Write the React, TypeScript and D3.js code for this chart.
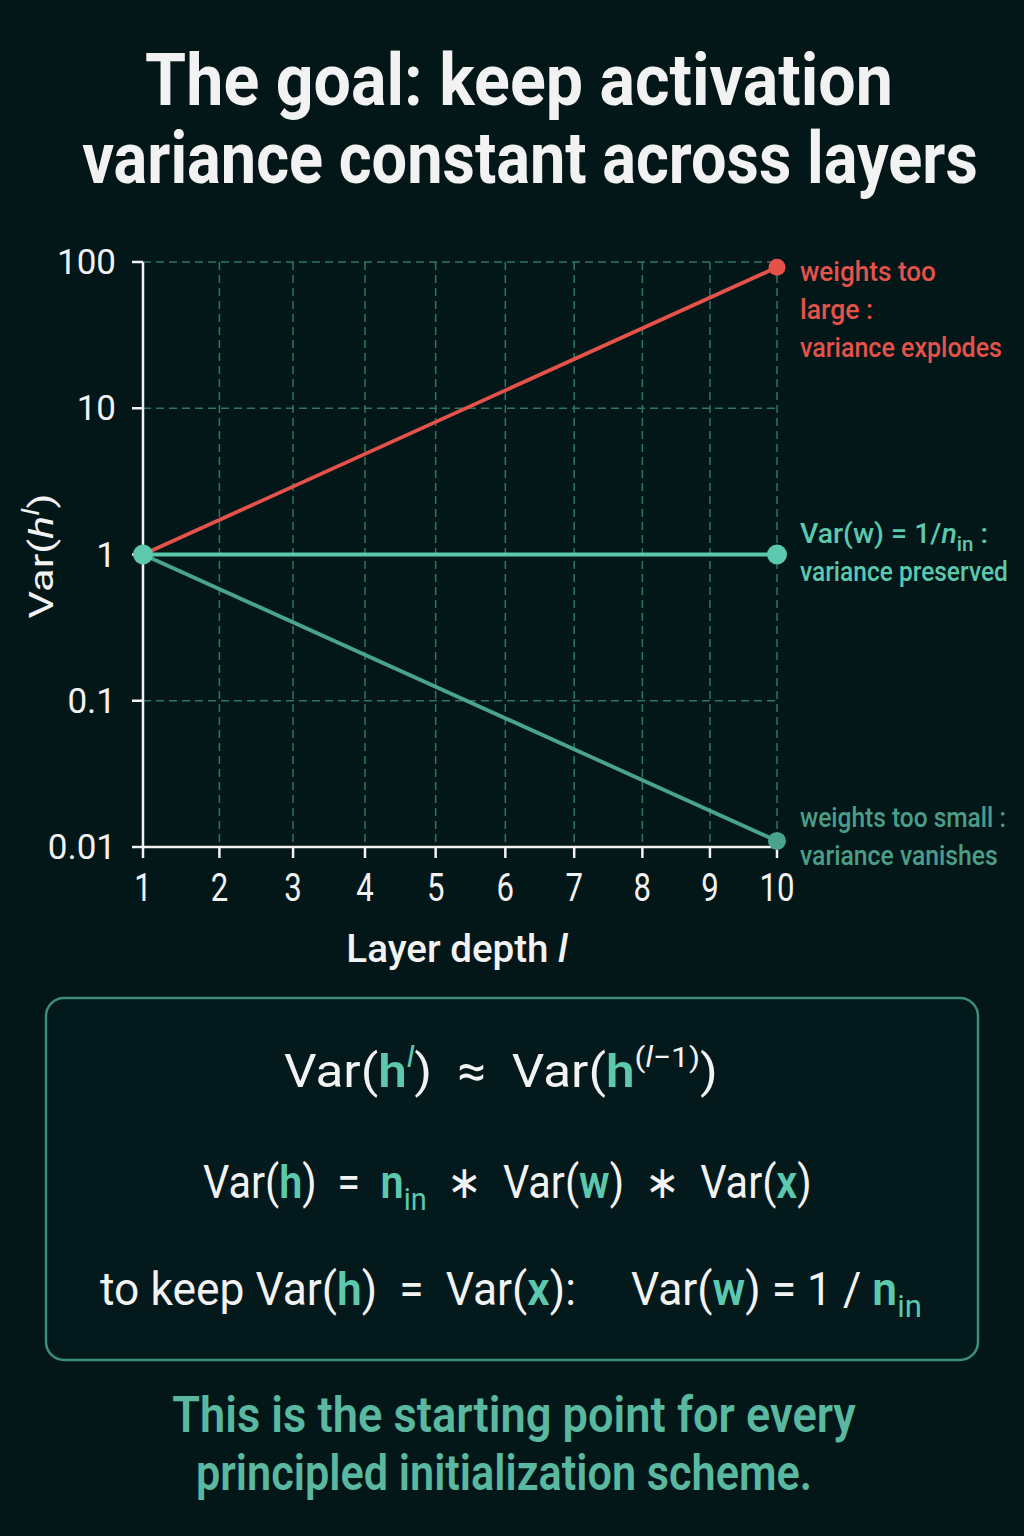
import React, { useEffect, useRef } from "react";
import * as d3 from "d3";

const W = 1024;
const H = 1536;

// Data
const layerTicks = [1, 2, 3, 4, 5, 6, 7, 8, 9, 10];
const varTicks = [0.01, 0.1, 1, 10, 100];
const varTickLabels = ["0.01", "0.1", "1", "10", "100"];
const gridVarLines = [0.1, 10, 100];
const endLayers = [1, 10];
const explodeVar = [1, 92];
const preservedVar = [1, 1];
const vanishVar = [1, 0.011];

const BG = "#031719";
const TEAL = "#5cc8ae";
const TEAL_DIM = "#4b9d88";
const RED = "#e5524a";
const GRID = "#2f7565";
const WHITE = "#f2f2f2";

type Part = { t: string; fill?: string; italic?: boolean; weight?: number; shift?: number; scale?: number };

function addText(
  parent: any,
  opts: { x: number; y: number; size: number; weight?: number; fill: string; width?: number; anchor?: string },
  parts: Part[]
) {
  const anchor = opts.anchor || "start";
  const t = parent
    .append("text")
    .attr("x", opts.x)
    .attr("y", opts.y)
    .attr("font-family", "Roboto, 'Noto Sans', sans-serif")
    .attr("font-size", opts.size)
    .attr("font-weight", opts.weight || 400)
    .attr("fill", opts.fill)
    .attr("text-anchor", anchor)
    .style("white-space", "pre");
  let prev = 0;
  parts.forEach((p) => {
    const shift = p.shift || 0;
    const ts = t.append("tspan").text(p.t);
    if (shift !== prev) ts.attr("dy", shift - prev);
    prev = shift;
    if (p.fill) ts.attr("fill", p.fill);
    if (p.italic) ts.attr("font-style", "italic");
    if (p.weight) ts.attr("font-weight", p.weight);
    if (p.scale) ts.attr("font-size", opts.size * p.scale);
  });
  if (opts.width) {
    const w = (t.node() as SVGTextElement).getBBox().width;
    if (w > 0) {
      const s = opts.width / w;
      t.attr("transform", `translate(${opts.x},0) scale(${s},1) translate(${-opts.x},0)`);
    }
  }
  return t;
}

export default function App() {
  const ref = useRef<SVGSVGElement>(null);
  useEffect(() => {
    document.body.style.margin = "0";
    const svg = d3.select(ref.current);
    svg.selectAll("*").remove();

    svg.append("rect").attr("width", W).attr("height", H).attr("fill", BG);

    // Title
    addText(svg, { x: 519, y: 105, size: 72, weight: 700, fill: WHITE, width: 748, anchor: "middle" }, [
      { t: "The goal: keep activation" },
    ]);
    addText(svg, { x: 530, y: 183, size: 72, weight: 700, fill: WHITE, width: 896, anchor: "middle" }, [
      { t: "variance constant across layers" },
    ]);

    const x = d3.scalePow().exponent(0.93).domain([1, 10]).range([143, 777]);
    const y = d3.scaleLog().domain([0.01, 100]).range([847, 262]);

    // Grid
    const g = svg.append("g");
    g.selectAll("line.vg")
      .data(layerTicks.slice(1))
      .enter()
      .append("line")
      .attr("x1", (d) => x(d))
      .attr("x2", (d) => x(d))
      .attr("y1", y(100))
      .attr("y2", y(0.01))
      .attr("stroke", GRID)
      .attr("stroke-width", 1.5)
      .attr("stroke-dasharray", "8,5");
    g.selectAll("line.hg")
      .data(gridVarLines)
      .enter()
      .append("line")
      .attr("x1", x(1))
      .attr("x2", x(10))
      .attr("y1", (d) => y(d))
      .attr("y2", (d) => y(d))
      .attr("stroke", GRID)
      .attr("stroke-width", 1.5)
      .attr("stroke-dasharray", "8,5");

    // Axes
    g.append("line").attr("x1", x(1)).attr("x2", x(1)).attr("y1", y(100)).attr("y2", y(0.01))
      .attr("stroke", WHITE).attr("stroke-width", 2.5);
    g.append("line").attr("x1", x(1)).attr("x2", x(10)).attr("y1", y(0.01)).attr("y2", y(0.01))
      .attr("stroke", WHITE).attr("stroke-width", 2.5);
    g.selectAll("line.yt").data(varTicks).enter().append("line")
      .attr("x1", x(1) - 11).attr("x2", x(1)).attr("y1", (d) => y(d)).attr("y2", (d) => y(d))
      .attr("stroke", WHITE).attr("stroke-width", 2.5);
    g.selectAll("line.xt").data(layerTicks).enter().append("line")
      .attr("x1", (d) => x(d)).attr("x2", (d) => x(d)).attr("y1", y(0.01)).attr("y2", y(0.01) + 11)
      .attr("stroke", WHITE).attr("stroke-width", 2.5);

    varTicks.forEach((v, i) => {
      addText(g, { x: 116, y: y(v) + 12, size: 35, fill: WHITE, anchor: "end" }, [{ t: varTickLabels[i] }]);
    });
    layerTicks.forEach((l) => {
      const t = addText(g, { x: x(l), y: 901, size: 38, fill: WHITE, anchor: "middle" }, [{ t: String(l) }]);
      t.attr("transform", `translate(${x(l)},0) scale(0.82,1) translate(${-x(l)},0)`);
    });

    // Axis titles
    addText(g, { x: 457, y: 962, size: 38, weight: 500, fill: WHITE, width: 222, anchor: "middle" }, [
      { t: "Layer depth " },
      { t: "l", italic: true },
    ]);
    const yl = g.append("g").attr("transform", "translate(53,556) rotate(-90)");
    const ylt = addText(yl, { x: 0, y: 0, size: 34, weight: 400, fill: WHITE, anchor: "middle" }, [
      { t: "Var(" },
      { t: "h", italic: true },
      { t: "l", italic: true, shift: -14, scale: 0.7 },
      { t: ")", shift: 0 },
    ]);
    const yw = (ylt.node() as SVGTextElement).getBBox().width;
    ylt.attr("transform", `scale(${125 / yw},1)`);

    // Lines
    const line = d3
      .line<number>()
      .x((_, i) => x(endLayers[i]))
      .y((d) => y(d));
    g.append("path").attr("d", line(explodeVar)).attr("fill", "none").attr("stroke", RED).attr("stroke-width", 3.8);
    g.append("path").attr("d", line(vanishVar)).attr("fill", "none").attr("stroke", "#4aa38d").attr("stroke-width", 3.8);
    g.append("path").attr("d", line(preservedVar)).attr("fill", "none").attr("stroke", TEAL).attr("stroke-width", 3.8);

    g.append("circle").attr("cx", x(endLayers[1])).attr("cy", y(explodeVar[1])).attr("r", 8.5).attr("fill", RED);
    g.append("circle").attr("cx", x(endLayers[1])).attr("cy", y(preservedVar[1])).attr("r", 10).attr("fill", TEAL);
    g.append("circle").attr("cx", x(endLayers[1])).attr("cy", y(vanishVar[1])).attr("r", 9).attr("fill", "#4aa38d");
    g.append("circle").attr("cx", x(endLayers[0])).attr("cy", y(preservedVar[0])).attr("r", 10).attr("fill", TEAL);

    // Right labels
    addText(g, { x: 800, y: 281, size: 28, weight: 500, fill: RED, width: 136 }, [{ t: "weights too" }]);
    addText(g, { x: 800, y: 319, size: 28, weight: 500, fill: RED, width: 73 }, [{ t: "large :" }]);
    addText(g, { x: 800, y: 357, size: 28, weight: 500, fill: RED, width: 202 }, [{ t: "variance explodes" }]);

    addText(g, { x: 800, y: 543, size: 28, weight: 500, fill: TEAL, width: 188 }, [
      { t: "Var(w) = 1/" },
      { t: "n", italic: true },
      { t: "in", shift: 8, scale: 0.72 },
      { t: " :", shift: 0 },
    ]);
    addText(g, { x: 800, y: 581, size: 28, weight: 500, fill: TEAL, width: 208 }, [{ t: "variance preserved" }]);

    addText(g, { x: 800, y: 827, size: 28, weight: 500, fill: TEAL_DIM, width: 206 }, [{ t: "weights too small :" }]);
    addText(g, { x: 800, y: 865, size: 28, weight: 500, fill: TEAL_DIM, width: 198 }, [{ t: "variance vanishes" }]);

    // Formula box
    svg.append("rect").attr("x", 46).attr("y", 998).attr("width", 932).attr("height", 362).attr("rx", 18)
      .attr("fill", "#04191b").attr("stroke", "#3e8c7a").attr("stroke-width", 2.5);

    addText(svg, { x: 284, y: 1087, size: 46, fill: WHITE, width: 434 }, [
      { t: "Var(" },
      { t: "h", fill: TEAL, weight: 600 },
      { t: "l", fill: TEAL, italic: true, shift: -20, scale: 0.62 },
      { t: ")  ≈  Var(", shift: 0 },
      { t: "h", fill: TEAL, weight: 600 },
      { t: "(", shift: -20, scale: 0.62 },
      { t: "l", italic: true, shift: -20, scale: 0.62 },
      { t: "−1)", shift: -20, scale: 0.62 },
      { t: ")", shift: 0 },
    ]);
    addText(svg, { x: 203, y: 1198, size: 46, fill: WHITE, width: 609 }, [
      { t: "Var(" },
      { t: "h", fill: TEAL, weight: 600 },
      { t: ")  =  " },
      { t: "n", fill: TEAL, weight: 600 },
      { t: "in", fill: TEAL, shift: 12, scale: 0.7 },
      { t: "  ∗  Var(", shift: 0 },
      { t: "w", fill: TEAL, weight: 600 },
      { t: ")  ∗  Var(" },
      { t: "x", fill: TEAL, weight: 600 },
      { t: ")" },
    ]);
    addText(svg, { x: 100, y: 1305, size: 46, fill: WHITE, width: 822 }, [
      { t: "to keep Var(" },
      { t: "h", fill: TEAL, weight: 600 },
      { t: ")  =  Var(" },
      { t: "x", fill: TEAL, weight: 600 },
      { t: "):     Var(" },
      { t: "w", fill: TEAL, weight: 600 },
      { t: ") = 1 / " },
      { t: "n", fill: TEAL, weight: 600 },
      { t: "in", fill: TEAL, shift: 12, scale: 0.7 },
    ]);

    // Footer
    addText(svg, { x: 514, y: 1432, size: 50, weight: 600, fill: "#5ab8a0", width: 684, anchor: "middle" }, [
      { t: "This is the starting point for every" },
    ]);
    addText(svg, { x: 504, y: 1490, size: 50, weight: 600, fill: "#5ab8a0", width: 616, anchor: "middle" }, [
      { t: "principled initialization scheme." },
    ]);
  }, []);
  return <svg ref={ref} width={W} height={H} style={{ display: "block" }} />;
}
